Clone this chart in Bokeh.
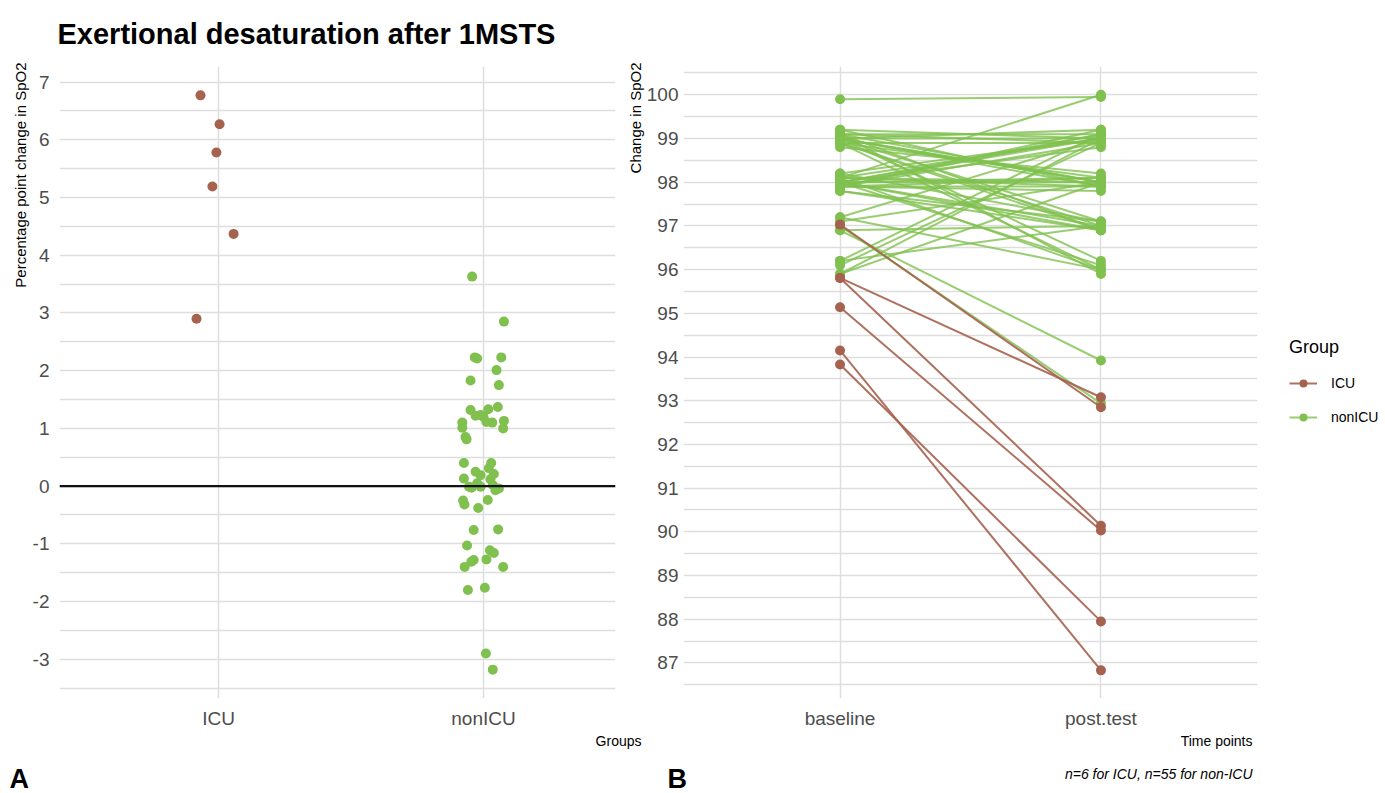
from bokeh.plotting import figure
from bokeh.layouts import row, column
from bokeh.models import FixedTicker, Span, Label, Legend, LegendItem, Range1d, Title
from bokeh.embed import file_html
from bokeh.resources import INLINE

FONT = "Liberation Sans"
ICU_COLOR = "#a5624e"
NON_COLOR = "#80c04f"
TICK_COLOR = "#4d4d4d"
GRID_COLOR = "#dedede"

# ---------------- data ----------------
groups = ["ICU", "nonICU"]
timepoints = ["baseline", "post.test"]

icu_change = [6.77, 6.27, 5.78, 5.19, 4.37, 2.90]
icu_jitter = [-0.068, 0.004, -0.008, -0.023, 0.057, -0.083]

non_change = [3.63, 2.85, 2.23, 2.21, 2.23, 2.01, 1.83, 1.75, 1.32, 1.37, 1.33, 1.22, 1.23,
              1.11, 1.10, 1.13, 1.10, 1.01, 1.00, 0.85, 0.81,
              0.40, 0.40, 0.31, 0.21, 0.19, 0.13, 0.12, 0.05, -0.01, -0.01, -0.07, -0.04,
              -0.25, -0.32, -0.24, -0.38, -0.76, -0.75,
              -1.03, -1.11, -1.16, -1.28, -1.31, -1.27, -1.40, -1.40,
              -1.80, -1.76, -2.90, -3.18, 0.02, -0.03, 1.20, 0.25]
non_jitter = [-0.043, 0.077, -0.033, -0.024, 0.067, 0.049, -0.049, 0.058, -0.049, 0.054, 0.018,
              -0.030, -0.011, 0.011, 0.033, 0.077, -0.080, -0.080, 0.074, -0.068, -0.064,
              -0.074, 0.029, 0.020, 0.039, -0.011, -0.074, 0.026, -0.024, -0.055, -0.011, 0.045, 0.058,
              -0.077, -0.072, 0.016, -0.020, -0.037, 0.055,
              -0.062, 0.024, 0.039, -0.037, -0.046, 0.011, -0.071, 0.074,
              -0.059, 0.005, 0.009, 0.035, 0.035, -0.045, 0.0, -0.03]

icu_baseline = [97.03, 95.81, 95.81, 95.14, 94.15, 93.83]
icu_post = [92.85, 93.08, 90.14, 90.03, 86.83, 87.95]

non_baseline = [99.9,
                99.1, 99.0, 99.1, 99.0, 98.9, 99.2, 99.0, 98.9, 99.1, 99.0, 98.9, 99.1, 99.0, 98.9, 99.1, 99.0, 98.8, 99.2,
                98.0, 98.1, 97.9, 98.0, 98.1, 97.9, 98.0, 98.2, 97.8, 98.0, 98.1, 97.9, 98.0, 98.1, 97.9, 98.0, 98.2,
                97.8, 98.0, 98.1, 97.9,
                97.2, 97.0, 96.9, 97.1, 96.9, 97.2,
                96.2, 96.1, 95.9, 95.9, 96.2,
                99.0, 98.0, 98.9, 97.9]
non_post = [99.95,
            99.1, 99.0, 98.9, 98.0, 98.1, 97.9, 97.1, 97.0, 96.9, 96.2, 96.0, 95.9, 99.2, 98.9, 98.0, 97.9, 98.2, 99.0,
            99.1, 99.0, 98.9, 98.0, 97.9, 98.1, 97.0, 97.1, 96.9, 96.1, 96.0, 99.2, 98.8, 100.0, 97.8, 98.1, 99.0,
            97.1, 96.9, 98.0, 99.1,
            99.0, 92.94, 93.92, 98.0, 97.0, 96.0,
            99.1, 98.9, 98.0, 99.0, 97.0,
            98.0, 99.0, 96.9, 97.9]

left_yticks = list(range(-3, 8))
right_yticks = list(range(87, 101))

# ---------------- layout geometry (window px) ----------------
HEAD_H = 50
TOP, BOTTOM = 66, 698
ROW_BOTTOM = 732
PANEL_H = ROW_BOTTOM - HEAD_H
L_FL, L_FR, L_W = 59, 615, 624
R_FL, R_FR, R_W = 683, 1257, 638
LEG_W = 123
STRIP_H = 61
W_ALL = L_W + R_W + LEG_W


def style(p, yticks, standoff):
    p.outline_line_color = None
    p.background_fill_color = "white"
    p.border_fill_color = "white"
    for ax in p.axis:
        ax.axis_line_color = None
        ax.major_tick_line_color = None
        ax.minor_tick_line_color = None
        ax.major_tick_in = 0
        ax.major_tick_out = 0
        ax.minor_tick_in = 0
        ax.minor_tick_out = 0
        ax.major_label_text_font = FONT
        ax.major_label_text_font_size = "19px"
        ax.major_label_text_color = TICK_COLOR
    p.xaxis.ticker = FixedTicker(ticks=[1, 2])
    p.xaxis.major_label_standoff = 9
    p.yaxis.ticker = FixedTicker(ticks=yticks)
    p.yaxis.major_label_standoff = standoff
    p.xgrid.ticker = FixedTicker(ticks=[1, 2])
    p.ygrid.ticker = FixedTicker(ticks=yticks,
                                 minor_ticks=[t + 0.5 for t in range(min(yticks) - 1, max(yticks) + 1)])
    p.xgrid.grid_line_color = GRID_COLOR
    p.xgrid.grid_line_width = 1.5
    p.ygrid.grid_line_color = GRID_COLOR
    p.ygrid.grid_line_width = 1.5
    p.ygrid.minor_grid_line_color = GRID_COLOR
    p.ygrid.minor_grid_line_width = 1.3


# ---------------- header strip with the title ----------------
p0 = figure(width=W_ALL, height=HEAD_H, x_range=Range1d(0, W_ALL), y_range=Range1d(HEAD_H, 0),
            output_backend="svg", toolbar_location=None, x_axis_type=None, y_axis_type=None,
            min_border=0)
p0.outline_line_color = None
p0.grid.visible = False
p0.add_layout(Label(x=57, y=33, text="Exertional desaturation after 1MSTS",
                    text_font=FONT, text_font_size="29px", text_font_style="bold",
                    text_baseline="middle", text_align="left", text_color="black"))

# ---------------- left panel ----------------
p1 = figure(width=L_W, height=PANEL_H, x_range=Range1d(0.4, 2.498), y_range=Range1d(-3.68, 7.27),
            output_backend="svg", toolbar_location=None,
            min_border_left=L_FL, min_border_right=L_W - L_FR,
            min_border_top=TOP - HEAD_H, min_border_bottom=ROW_BOTTOM - BOTTOM)
style(p1, left_yticks, 10)
p1.xaxis.major_label_overrides = {1: groups[0], 2: groups[1]}
p1.yaxis.major_label_overrides = {t: str(t) for t in left_yticks}
p1.add_layout(Title(text="Percentage point change in SpO2", align="right", offset=-4, standoff=2,
                    text_font=FONT, text_font_size="15px", text_font_style="normal",
                    text_color="black"), "left")

p1.add_layout(Span(location=0, dimension="width", line_color="#111111", line_width=2.2))
p1.scatter([1 + j for j in icu_jitter], icu_change, size=10, color=ICU_COLOR, line_color=None)
p1.scatter([2 + j for j in non_jitter], non_change, size=10, color=NON_COLOR, line_color=None)

# ---------------- right panel ----------------
p2 = figure(width=R_W, height=PANEL_H, x_range=Range1d(0.4, 2.6), y_range=Range1d(86.186, 100.648),
            output_backend="svg", toolbar_location=None,
            min_border_left=R_FL - L_W, min_border_right=L_W + R_W - R_FR,
            min_border_top=TOP - HEAD_H, min_border_bottom=ROW_BOTTOM - BOTTOM)
style(p2, right_yticks, 5)
p2.xaxis.major_label_overrides = {1: timepoints[0], 2: timepoints[1]}
p2.yaxis.major_label_overrides = {t: str(t) for t in right_yticks}
p2.add_layout(Title(text="Change in SpO2", align="right", offset=-4, standoff=0,
                    text_font=FONT, text_font_size="15px", text_font_style="normal",
                    text_color="black"), "left")

p2.multi_line([[1, 2] for _ in non_baseline], [[b, q] for b, q in zip(non_baseline, non_post)],
              line_color=NON_COLOR, line_width=2, line_alpha=0.8)
p2.scatter([1] * len(non_baseline) + [2] * len(non_post), non_baseline + non_post,
           size=10, color=NON_COLOR, line_color=None)
p2.multi_line([[1, 2] for _ in icu_baseline], [[b, q] for b, q in zip(icu_baseline, icu_post)],
              line_color=ICU_COLOR, line_width=2, line_alpha=0.9)
p2.scatter([1] * len(icu_baseline) + [2] * len(icu_post), icu_baseline + icu_post,
           size=10, color=ICU_COLOR, line_color=None)

# ---------------- legend column (key renderers sit outside its visible range) ----------------
p3 = figure(width=LEG_W, height=PANEL_H, x_range=Range1d(-1, 0), y_range=Range1d(-1, 0),
            output_backend="svg", toolbar_location=None, x_axis_type=None, y_axis_type=None,
            min_border=0)
p3.outline_line_color = None
p3.grid.visible = False
leg_icu_line = p3.line([1, 2], [icu_baseline[0], icu_post[0]], line_color=ICU_COLOR, line_width=2, line_alpha=0.9)
leg_icu_pt = p3.scatter([1], [icu_baseline[0]], size=10, color=ICU_COLOR, line_color=None)
leg_non_line = p3.line([1, 2], [non_baseline[0], non_post[0]], line_color=NON_COLOR, line_width=2, line_alpha=0.8)
leg_non_pt = p3.scatter([1], [non_baseline[0]], size=10, color=NON_COLOR, line_color=None)
legend = Legend(items=[LegendItem(label=groups[0], renderers=[leg_icu_line, leg_icu_pt]),
                       LegendItem(label=groups[1], renderers=[leg_non_line, leg_non_pt])],
                location=(1289 - (L_W + R_W), BOTTOM - 427), title="Group",
                title_text_font=FONT, title_text_font_size="18px", title_text_font_style="normal",
                title_text_color="black", title_standoff=15,
                label_text_font=FONT, label_text_font_size="14px", label_text_color="black",
                glyph_width=28, glyph_height=20, spacing=14, label_standoff=14, padding=0, margin=0,
                border_line_color=None, background_fill_alpha=0)
p3.add_layout(legend)

# ---------------- bottom strip with captions ----------------
p4 = figure(width=W_ALL, height=STRIP_H, x_range=Range1d(0, W_ALL),
            y_range=Range1d(ROW_BOTTOM + STRIP_H, ROW_BOTTOM),
            output_backend="svg", toolbar_location=None, x_axis_type=None, y_axis_type=None,
            min_border=0)
p4.outline_line_color = None
p4.grid.visible = False
p4.add_layout(Label(x=641, y=740, text="Groups", text_font=FONT, text_font_size="14px",
                    text_align="right", text_baseline="middle", text_color="black"))
p4.add_layout(Label(x=1252, y=740, text="Time points", text_font=FONT, text_font_size="14px",
                    text_align="right", text_baseline="middle", text_color="black"))
p4.add_layout(Label(x=9, y=778, text="A", text_font=FONT, text_font_size="27px",
                    text_font_style="bold", text_align="left", text_baseline="middle", text_color="black"))
p4.add_layout(Label(x=667, y=778, text="B", text_font=FONT, text_font_size="27px",
                    text_font_style="bold", text_align="left", text_baseline="middle", text_color="black"))
p4.add_layout(Label(x=1252, y=773, text="n=6 for ICU, n=55 for non-ICU", text_font=FONT,
                    text_font_size="14px", text_font_style="italic", text_align="right",
                    text_baseline="middle", text_color="black"))

layout = column(p0, row(p1, p2, p3), p4)
open("out.html", "w").write(file_html(layout, INLINE))
